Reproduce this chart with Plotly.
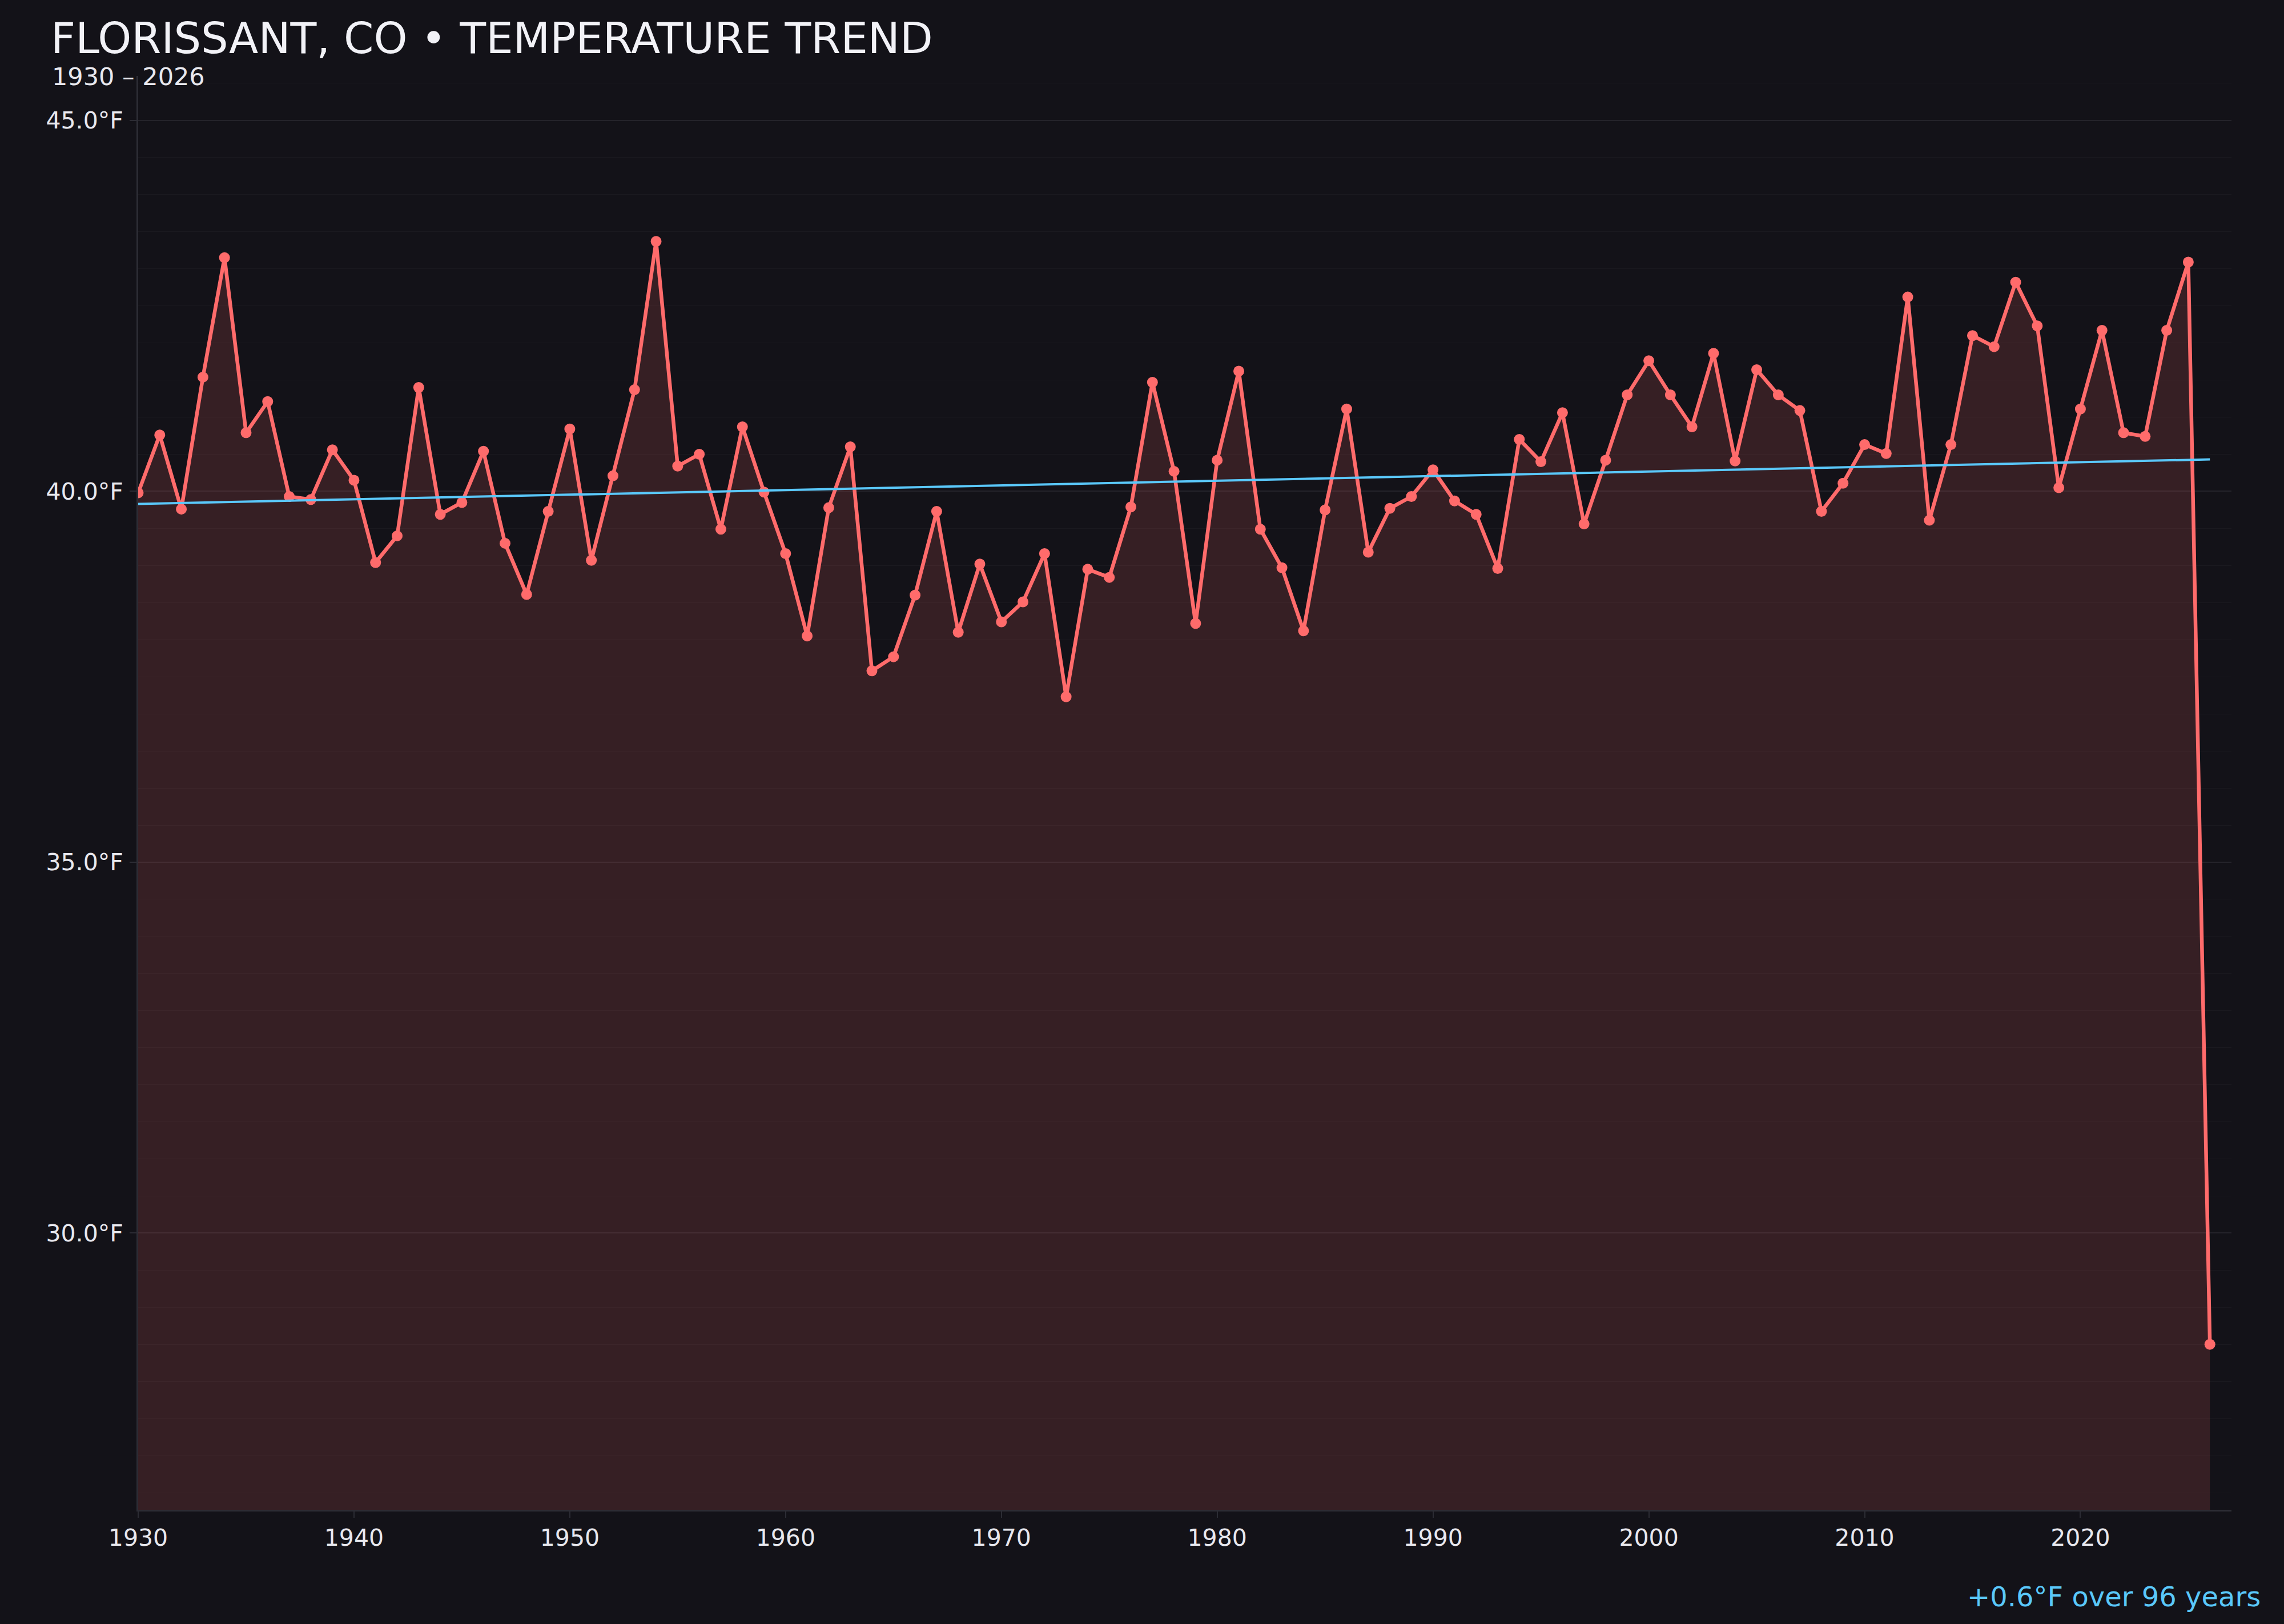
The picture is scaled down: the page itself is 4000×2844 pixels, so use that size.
import plotly.graph_objects as go

# ============================================================
# 1 — DONNEES
# ============================================================

annees = list(range(1930, 2027))

temperatures = [
    39.98, 40.76, 39.76, 41.54, 43.15, 40.79, 41.21, 39.93, 39.89, 40.56,   # 1930-1939
    40.15, 39.04, 39.40, 41.40, 39.69, 39.85, 40.54, 39.30, 38.61, 39.73,   # 1940-1949
    40.84, 39.07, 40.21, 41.37, 43.37, 40.34, 40.50, 39.49, 40.87, 39.99,   # 1950-1959
    39.16, 38.05, 39.78, 40.60, 37.58, 37.77, 38.60, 39.73, 38.10, 39.02,   # 1960-1969
    38.24, 38.51, 39.16, 37.23, 38.95, 38.84, 39.79, 41.47, 40.27, 38.22,   # 1970-1979
    40.42, 41.62, 39.49, 38.97, 38.12, 39.75, 41.11, 39.18, 39.77, 39.93,   # 1980-1989
    40.29, 39.87, 39.69, 38.96, 40.70, 40.40, 41.06, 39.56, 40.42, 41.30,   # 1990-1999
    41.76, 41.30, 40.87, 41.86, 40.41, 41.64, 41.30, 41.09, 39.73, 40.11,   # 2000-2009
    40.63, 40.51, 42.62, 39.61, 40.63, 42.10, 41.95, 42.82, 42.23, 40.05,   # 2010-2019
    41.11, 42.17, 40.79, 40.74, 42.17, 43.09, 28.50,                        # 2020-2026
]

tendance_annees = [1930, 2026]
tendance_valeurs = [39.83, 40.43]

titre = "FLORISSANT, CO • TEMPERATURE TREND"
sous_titre = "1930 – 2026"
note_tendance = "+0.6°F over 96 years"

# ============================================================
# 2 — COULEURS
# ============================================================

FOND = "#131218"
ROUGE = "#ff6b6b"
BLEU = "#5ac8fa"
TEXTE = "#e8e8ee"
POLICE = "DejaVu Sans"

# ============================================================
# 3 — GRAPHIQUE
# ============================================================

fig = go.Figure()

fig.add_trace(go.Scatter(
    x=annees,
    y=temperatures,
    mode="lines+markers",
    line=dict(color=ROUGE, width=6.5),
    marker=dict(color=ROUGE, size=19),
    fill="tozeroy",
    fillcolor="rgba(255,107,107,0.15)",
    showlegend=False,
))

fig.add_trace(go.Scatter(
    x=tendance_annees,
    y=tendance_valeurs,
    mode="lines",
    line=dict(color=BLEU, width=4),
    showlegend=False,
))

fig.update_layout(
    width=4000,
    height=2844,
    paper_bgcolor=FOND,
    plot_bgcolor=FOND,
    font=dict(family=POLICE, color=TEXTE, size=41),
    margin=dict(l=242, r=92, t=133, b=200),
    title=dict(
        text=titre,
        font=dict(size=75, color="#f2f2f7", family=POLICE),
        xref="container", x=89 / 4000, xanchor="left",
        yref="container", y=1 - 67 / 2844, yanchor="middle",
    ),
    annotations=[
        dict(
            text=sous_titre,
            xref="paper", yref="paper",
            x=(89 - 242) / 3666, y=(2644 - 134) / 2511,
            xanchor="left", yanchor="middle",
            showarrow=False,
            font=dict(size=43, color=TEXTE, family=POLICE),
        ),
        dict(
            text=note_tendance,
            xref="paper", yref="paper",
            x=(3961 - 242) / 3666, y=(2644 - 2796) / 2511,
            xanchor="right", yanchor="middle",
            showarrow=False,
            font=dict(size=48, color=BLEU, family=POLICE),
        ),
    ],
)

fig.update_xaxes(
    range=[1930, 2027],
    tickmode="linear", tick0=1930, dtick=10,
    tickformat="d",
    showgrid=False,
    zeroline=False,
    showline=True, linecolor="#2c2c34", linewidth=3,
    ticks="outside", ticklen=11, tickwidth=2, tickcolor="#2c2c34",
    ticklabelstandoff=0,
    tickfont=dict(size=41, color=TEXTE, family=POLICE),
)

fig.update_yaxes(
    range=[26.27, 45.6],
    tickmode="linear", tick0=30, dtick=5,
    tickformat=".1f", ticksuffix="°F",
    showgrid=True, gridcolor="#24232a", gridwidth=2,
    minor=dict(dtick=0.5, showgrid=True, gridcolor="#1a191f", gridwidth=1),
    zeroline=False,
    showline=True, linecolor="#2c2c34", linewidth=3,
    ticks="outside", ticklen=12, tickwidth=2, tickcolor="#2c2c34",
    ticklabelstandoff=3,
    tickfont=dict(size=41, color=TEXTE, family=POLICE),
)

# pas de marge blanche ni de barre d'outils autour de la figure
fig.write_html(
    "out.html",
    config={"displayModeBar": False},
    post_script="document.body.style.margin='0';document.body.style.background='" + FOND + "';",
)
